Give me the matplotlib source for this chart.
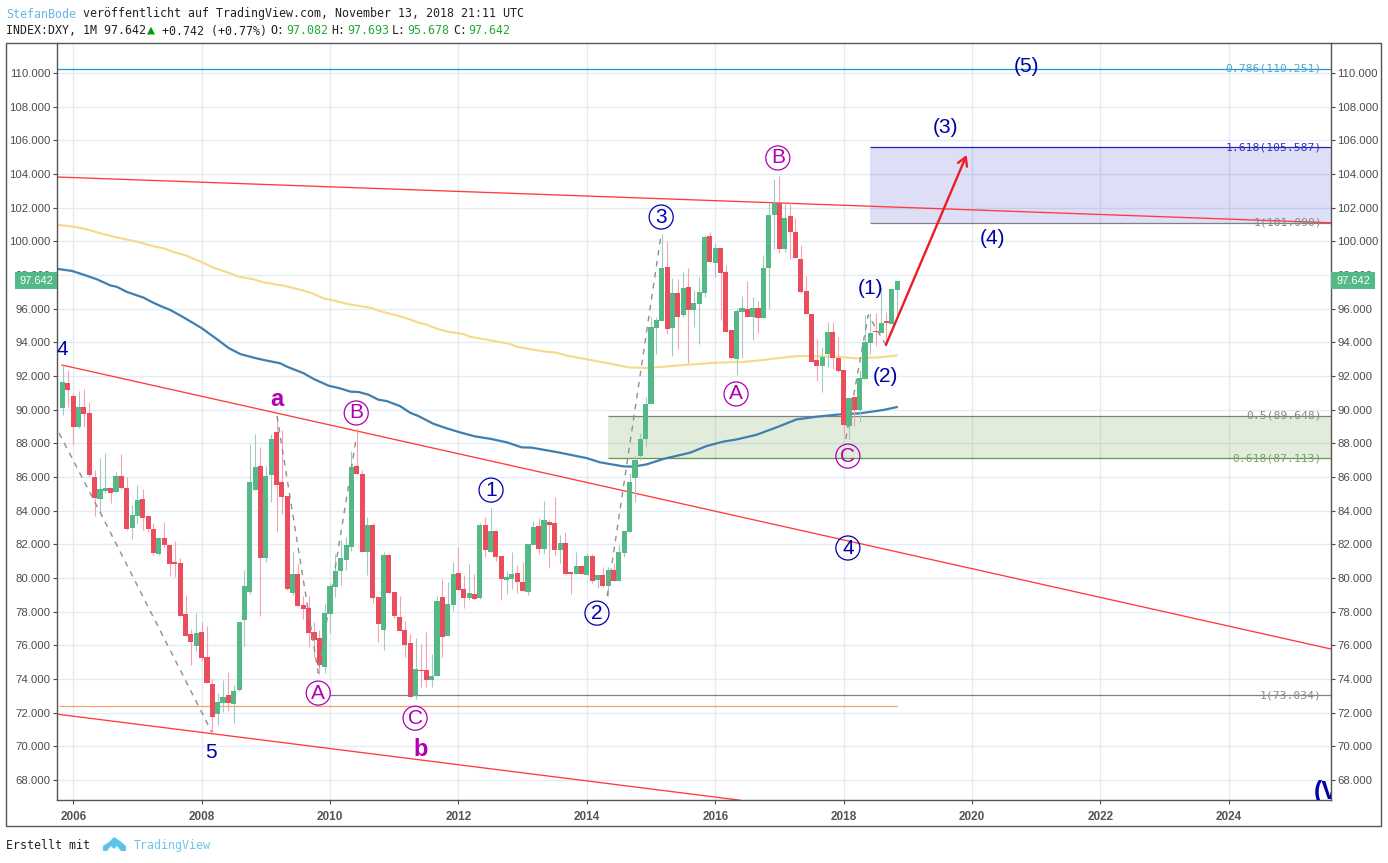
#!/usr/bin/env python
import numpy as np
import matplotlib
matplotlib.use('Agg')
import matplotlib.pyplot as plt
from matplotlib.patches import Rectangle, Polygon

# monthly candles, first one is Nov 2005
opens = [90.10,91.58,90.81,88.95,90.16,89.80,86.00,84.69,85.19,85.33,85.11,86.06,85.35,82.97,83.68,84.69,83.68,82.91,81.45,82.38,
         81.96,80.93,80.89,77.86,76.67,75.98,76.79,75.31,73.70,71.94,72.59,73.05,72.53,73.35,77.52,79.19,85.25,86.63,81.21,86.14,
         88.67,85.68,84.85,79.12,80.22,78.38,78.20,76.77,76.42,74.73,77.86,79.48,80.44,81.07,81.86,86.65,86.18,81.56,83.15,78.87,
         76.91,81.35,79.15,77.68,76.91,76.12,73.01,74.53,74.53,73.94,74.20,78.87,76.55,78.40,80.30,79.35,78.83,79.05,78.83,83.15,
         81.56,82.79,81.31,79.90,79.96,80.30,79.76,79.17,81.96,83.09,81.72,83.33,83.27,81.66,82.08,80.36,80.24,80.71,80.18,81.31,
         79.88,80.18,79.52,80.48,79.82,81.49,82.73,85.94,87.27,88.26,90.32,94.85,95.27,98.46,94.85,96.91,95.60,97.27,95.92,96.28,
         96.95,100.32,98.73,99.58,98.20,94.71,93.03,95.82,95.96,95.52,96.04,95.47,98.44,101.54,102.26,99.54,101.48,100.55,98.95,97.05,
         95.66,92.93,92.61,93.31,94.60,93.07,92.36,89.05,90.73,89.98,91.82,93.94,94.65,94.57,95.27,95.09,97.082]
closes = [91.64,91.17,88.99,90.16,89.74,86.12,84.77,85.29,85.35,85.05,86.06,85.35,82.91,83.74,84.63,83.58,82.91,81.50,82.38,81.98,
          80.85,80.85,77.76,76.57,76.22,76.71,75.27,73.78,71.76,72.63,72.91,72.59,73.27,77.37,79.52,85.68,86.59,81.21,86.06,88.26,
          85.54,84.83,79.35,80.22,78.36,78.18,76.75,76.34,74.85,77.90,79.52,80.40,81.17,81.94,86.61,86.18,81.56,83.15,78.83,77.29,
          81.35,79.09,77.74,76.85,76.02,72.95,74.59,74.47,73.94,74.20,78.63,76.51,78.46,80.24,79.31,78.83,79.11,78.77,83.15,81.66,
          82.79,81.27,79.96,80.06,80.24,79.76,79.23,82.02,83.03,81.72,83.45,83.15,81.66,82.08,80.24,80.26,80.71,80.24,81.31,79.82,
          80.18,79.52,80.48,79.82,81.54,82.79,85.70,87.01,88.26,90.32,94.89,95.31,98.40,94.81,96.91,95.52,97.21,95.92,96.32,96.97,
          100.24,98.75,99.58,98.14,94.63,93.09,95.86,96.04,95.52,96.04,95.47,98.40,101.56,102.26,99.54,101.40,100.57,99.03,97.00,95.66,
          92.85,92.61,93.13,94.60,93.07,92.32,89.09,90.69,89.98,91.86,94.00,94.53,94.59,95.13,95.17,97.15,97.642]
highs = [92.65,92.36,91.01,91.11,91.21,90.46,86.42,87.13,87.41,85.35,86.32,87.37,86.02,84.34,85.52,85.29,83.70,83.25,82.46,83.33,
         81.96,82.18,81.17,78.99,76.97,77.90,77.41,77.17,73.98,73.15,73.94,74.42,73.64,77.37,80.48,87.96,88.55,87.80,86.65,88.55,
         89.68,88.79,84.85,81.52,80.87,78.90,78.93,77.40,76.90,78.50,79.68,81.43,82.26,82.46,87.54,88.90,86.40,83.60,83.25,78.87,
         81.56,81.40,79.15,78.93,77.45,76.67,76.42,76.08,76.81,75.49,78.95,79.94,79.76,80.95,81.86,80.18,80.81,80.24,83.29,83.60,
         84.14,82.79,81.31,80.42,81.54,80.77,80.93,82.02,83.39,83.54,84.60,83.45,84.81,82.55,82.73,80.36,81.54,80.71,81.47,81.43,
         80.18,80.63,80.63,80.91,81.96,82.79,86.26,87.31,88.59,90.77,95.52,95.52,100.44,100.02,97.80,97.74,98.20,98.40,97.10,97.90,
         100.38,100.55,99.88,99.58,98.60,94.71,96.02,96.75,97.64,96.69,96.48,99.19,102.30,103.70,103.88,102.26,102.32,101.37,99.78,97.94,
         95.66,94.20,93.74,95.19,95.19,94.30,92.36,90.69,90.73,92.36,95.62,95.72,95.72,97.30,95.82,97.15,97.693]
lows = [89.68,90.18,87.90,88.93,88.99,86.02,83.70,83.84,85.03,84.48,85.11,85.30,82.85,82.32,83.21,82.85,82.75,81.37,81.37,81.82,
        80.14,80.08,77.76,76.57,74.83,75.68,75.09,73.78,70.87,71.27,72.06,72.12,71.41,73.31,75.98,79.05,85.25,77.74,80.97,84.50,
        82.73,83.80,79.29,78.99,78.36,77.54,75.92,75.33,74.28,74.38,76.71,78.89,79.58,80.48,81.60,86.18,81.56,80.18,78.53,76.22,
        75.72,79.09,77.60,76.85,75.33,72.95,72.79,73.54,73.54,73.54,74.20,75.33,76.55,78.04,79.31,78.20,78.69,78.69,78.75,81.27,
        81.56,81.03,78.69,79.05,79.33,79.09,79.23,78.99,81.96,81.43,81.43,80.59,81.37,80.87,80.24,79.05,80.24,80.24,80.18,79.72,
        79.39,79.45,78.95,79.82,79.82,81.23,82.73,84.51,87.01,87.76,90.32,93.31,95.27,94.50,93.21,93.60,95.52,92.75,94.93,93.88,
        96.71,98.75,97.90,95.33,94.63,93.09,92.06,93.09,95.52,94.14,94.57,95.47,95.96,99.52,99.29,99.39,98.93,99.00,96.91,95.66,
        92.85,91.70,91.07,92.55,92.40,92.26,88.50,88.24,89.03,89.29,91.82,93.29,93.80,94.57,93.84,95.09,95.678]

# moving averages (month index, price)
ma_yellow_x = [-0.72,2.09,4.58,6.45,9.25,12.05,13.92,17.04,18.91,21.09,22.96,26.07,28.25,30.75,32.93,35.73,37.6,41.34,43.83,46.32,48.81,50.68,52.55,
               53.74,57.79,59.04,61.22,64.02,66.51,68.07,69.94,72.12,74.92,76.17,79.91,83.65,84.89,89.88,92.06,94.24,97.98,101.72,105.77,109.2,
               112.31,116.98,122.28,127.26,131.0,133.49,137.23,140.97,144.71,148.45,152.81,155.92]
ma_yellow_y = [100.97,100.87,100.71,100.53,100.30,100.10,99.98,99.70,99.58,99.33,99.17,98.75,98.43,98.16,97.90,97.74,97.56,97.36,97.17,96.95,96.61,96.49,96.33,
               96.25,96.04,95.88,95.70,95.46,95.17,95.05,94.81,94.63,94.49,94.33,94.12,93.90,93.74,93.46,93.40,93.21,92.99,92.77,92.51,92.47,
               92.55,92.67,92.79,92.83,92.95,93.05,93.18,93.18,93.14,93.05,93.11,93.22]
ma_blue_x = [-0.72,1.77,4.27,6.45,8.94,10.19,12.05,15.17,16.73,18.28,20.15,22.96,26.07,28.88,31.06,33.24,35.73,37.6,40.72,41.96,45.08,46.95,49.75,51.93,53.8,
             55.3,57.17,59.04,60.59,63.09,64.95,66.51,69.32,71.81,74.3,77.1,79.91,83.02,85.83,87.7,92.37,97.98,100.47,104.83,
             106.7,109.2,112.31,117.29,120.41,123.52,126.02,129.76,133.49,137.23,140.97,145.33,149.07,153.43,155.92]
ma_blue_y = [98.35,98.24,97.98,97.74,97.38,97.29,96.99,96.65,96.39,96.16,95.92,95.42,94.83,94.18,93.66,93.30,93.09,92.95,92.75,92.55,92.16,91.82,91.42,91.26,91.07,
             91.05,90.89,90.59,90.51,90.21,89.82,89.62,89.16,88.89,88.65,88.41,88.27,88.06,87.76,87.74,87.48,87.12,86.87,86.63,
             86.61,86.75,87.07,87.44,87.84,88.10,88.23,88.51,88.95,89.42,89.58,89.72,89.78,89.98,90.15]

# trend lines and the zigzags (month index, price)
red_top_x, red_top_y = [-1.03, 237.1], [103.82, 101.10]
red_mid_x, red_mid_y = [-0.1, 237.1], [92.65, 75.78]
red_low_x, red_low_y = [-1.03, 126.6], [71.91, 66.80]
arrow_x, arrow_y = [153.9, 169.0], [93.84, 105.13]
zigzags = [
    ([-0.65, 7.0, 27.9], [88.61, 83.92, 70.84]),
    ([40.1, 47.8, 54.9], [89.62, 74.35, 88.31]),
    ([101.8, 111.9], [78.92, 100.43]),
    ([146.4, 150.6, 153.9], [88.25, 95.62, 93.84]),
]

# fib levels
fib_values = [110.251, 105.587, 101.090, 89.648, 87.113, 73.034]
fib_labels = ['0.786(110.251)', '1.618(105.587)', '1(101.090)', '0.5(89.648)', '0.618(87.113)', '1(73.034)']
fib_line_colors = ['#2196c8', '#2222c0', '#808080', '#808080', '#5f9a4a', '#808080']
fib_text_colors = ['#4fa8d4', '#3333bb', '#888888', '#888888', '#7f9f70', '#888888']
fib_starts = [-1.03, 150.9, 150.9, 102.0, 102.0, 50.0]
orange_level = 72.39

# wave labels
plain_labels = ['(5)', '(3)', '(4)', '(1)', '(2)', '4', '5']
plain_x = [180.1, 165.0, 173.9, 151.1, 153.9, -0.1, 27.8]
plain_y = [110.40, 106.78, 100.14, 97.22, 91.94, 93.60, 69.66]
bold_labels = ['a', 'b']
bold_x = [40.1, 67.0]
bold_y = [90.63, 69.83]
blue_circ = ['1', '2', '3', '4']
blue_circ_x = [80.1, 99.9, 111.9, 146.8]
blue_circ_y = [85.22, 77.91, 101.44, 81.78]
pink_circ = ['A', 'C', 'B', 'A', 'B', 'C']
pink_circ_x = [47.8, 65.9, 54.9, 125.9, 133.7, 146.8]
pink_circ_y = [73.16, 71.67, 89.80, 90.93, 104.95, 87.24]

price_ticks = np.arange(68, 112, 2)
year_ticks = np.arange(2, 226, 24)
year_labels = ['2006', '2008', '2010', '2012', '2014', '2016', '2018', '2020', '2022', '2024']

green = '#53b987'
red = '#eb4d5c'
navy = '#0000aa'
pink = '#b000b0'
sans = 'Liberation Sans'
mono = 'DejaVu Sans Mono'

W, H = 1388.0, 863.0
fig = plt.figure(figsize=(W/100, H/100), dpi=100, facecolor='white')
ax = fig.add_axes([57/W, 1-800/H, (1331-57)/W, 757/H])
ax.set_xlim(-1.03, 237.1)
ax.set_ylim(66.81, 111.78)

def ftext(px, py, s, color='#222222', size=8.4, family=mono, **kw):
    fig.text(px/W, 1-py/H, s, color=color, fontsize=size, family=family, va='center', **kw)

# grid
ax.set_yticks(price_ticks)
ax.set_yticklabels(['%.3f' % v for v in price_ticks], fontsize=8.2, family=sans, color='#4c4c4c')
ax.set_xticks(year_ticks)
ax.set_xticklabels(year_labels, fontsize=8.5, family=sans, fontweight='bold', color='#555555')
ax.grid(True, color='#e3ecf2', lw=1.0, zorder=0)
ax.set_axisbelow(True)
ax.tick_params(axis='y', left=True, right=True, labelleft=True, labelright=True, length=3, width=0.8, color='#4c4c4c', pad=1.5)
ax.tick_params(axis='x', length=3, width=0.8, color='#4c4c4c', pad=5)
for s in ['left', 'right', 'bottom']:
    ax.spines[s].set_color('#555555')
    ax.spines[s].set_linewidth(1.0)
ax.spines['top'].set_visible(False)

# fib boxes
xr = ax.get_xlim()[1]
ax.add_patch(Rectangle((fib_starts[1], fib_values[2]), xr-fib_starts[1], fib_values[1]-fib_values[2], fc='#2222cc', ec='none', alpha=0.15, zorder=1.5))
ax.add_patch(Rectangle((fib_starts[3], fib_values[4]), xr-fib_starts[3], fib_values[3]-fib_values[4], fc='#5c9a3c', ec='none', alpha=0.18, zorder=1.5))
ax.hlines(orange_level, -0.65, 156, color='#f2a56a', lw=0.9, zorder=2)
for v, st, c in zip(fib_values, fib_starts, fib_line_colors):
    ax.hlines(v, st, xr, color=c, lw=0.9, zorder=2)

# moving averages
ax.plot(ma_yellow_x, ma_yellow_y, color='#f8d98a', lw=1.5, zorder=2.2)
ax.plot(ma_blue_x, ma_blue_y, color='#3f7fb0', lw=1.6, zorder=2.2)

# trend lines
for xs, ys in [(red_top_x, red_top_y), (red_mid_x, red_mid_y), (red_low_x, red_low_y)]:
    ax.plot(xs, ys, color='#ff3b3b', lw=0.95, zorder=2.5)

# candles
x = np.arange(len(closes))
o = np.array(opens)
c = np.array(closes)
up = c >= o
cols = np.where(up, green, red)
wick = np.where(up, '#a2c9c6', '#f6a3ab')
ax.vlines(x, lows, highs, colors=list(wick), lw=0.8, zorder=3)
ax.bar(x, np.abs(c-o), bottom=np.minimum(o, c), width=0.95, color=list(cols), lw=0, zorder=3.2)

for xs, ys in zigzags:
    ax.plot(xs, ys, color='#8f8f8f', lw=1.0, ls=(0, (4, 4)), zorder=3.5)

ax.annotate('', xy=(arrow_x[1], arrow_y[1]), xytext=(arrow_x[0], arrow_y[0]),
            arrowprops=dict(arrowstyle='->,head_length=0.6,head_width=0.35', color='#ee1c25', lw=1.7, shrinkA=0, shrinkB=0), zorder=4)

# fib labels
for v, s, tc in zip(fib_values, fib_labels, fib_text_colors):
    ax.text(235.4, v, s, color=tc, fontsize=8.2, family=mono, ha='right', va='center', zorder=4)

# wave labels
for s, lx, ly in zip(plain_labels, plain_x, plain_y):
    ax.text(lx, ly, s, color=navy, fontsize=15, family=sans, ha='center', va='center', zorder=5)
for s, lx, ly in zip(bold_labels, bold_x, bold_y):
    ax.text(lx, ly, s, color=pink, fontsize=17, family=sans, fontweight='bold', ha='center', va='center', zorder=5)
ax.scatter(blue_circ_x, blue_circ_y, s=300, facecolors='none', edgecolors=navy, lw=0.9, zorder=5)
ax.scatter(pink_circ_x, pink_circ_y, s=300, facecolors='none', edgecolors=pink, lw=0.9, zorder=5)
for s, lx, ly in zip(blue_circ, blue_circ_x, blue_circ_y):
    ax.text(lx, ly, s, color=navy, fontsize=15, family=sans, ha='center', va='center', zorder=5)
for s, lx, ly in zip(pink_circ, pink_circ_x, pink_circ_y):
    ax.text(lx, ly, s, color=pink, fontsize=15, family=sans, ha='center', va='center', zorder=5)
ax.text(233.9, 67.3, '(V)', color=navy, fontsize=18, family=sans, fontweight='bold', ha='left', va='center', clip_on=True, zorder=5)

# outer frame
fig.add_artist(Rectangle((6/W, 1-826/H), (1381-6)/W, (826-43)/H, transform=fig.transFigure, fc='none', ec='#555555', lw=1.0))

# last price boxes
for bx, bw, tx in [(15, 42, 36), (1331, 44, 1353)]:
    fig.add_artist(Rectangle((bx/W, 1-289/H), bw/W, 17/H, transform=fig.transFigure, fc=green, ec='none', zorder=10))
    ftext(tx, 280.5, '97.642', color='white', size=8, family=sans, ha='center', zorder=11)

# header
ftext(6, 14, 'StefanBode', color='#62b8e8')
ftext(83, 14, 'veröffentlicht auf TradingView.com, November 13, 2018 21:11 UTC')
ftext(6, 31, 'INDEX:DXY, 1M 97.642')
ftext(147, 30, '▲', color='#009a00', size=9.5)
ftext(162, 31, '+0.742 (+0.77%)')
for px, s, col in [(270, 'O:', '#222222'), (286, '97.082', '#22aa33'), (331, 'H:', '#222222'), (347, '97.693', '#22aa33'),
                   (392, 'L:', '#222222'), (407.5, '95.678', '#22aa33'), (453.5, 'C:', '#222222'), (468.5, '97.642', '#22aa33')]:
    ftext(px, 31, s, color=col)

# footer
ftext(6, 845, 'Erstellt mit')
ftext(134, 845, 'TradingView', color='#6cc6ec')
cloud = [(103, 851), (103, 846), (109, 842), (114, 837), (120, 841), (126, 846), (126, 851), (121, 851), (117, 846), (114, 849), (111, 846), (107, 851)]
fig.add_artist(Polygon([(a/W, 1-b/H) for a, b in cloud], closed=True, transform=fig.transFigure, fc='#5cc4ec', ec='none'))

fig.savefig('out.png', dpi=100)
